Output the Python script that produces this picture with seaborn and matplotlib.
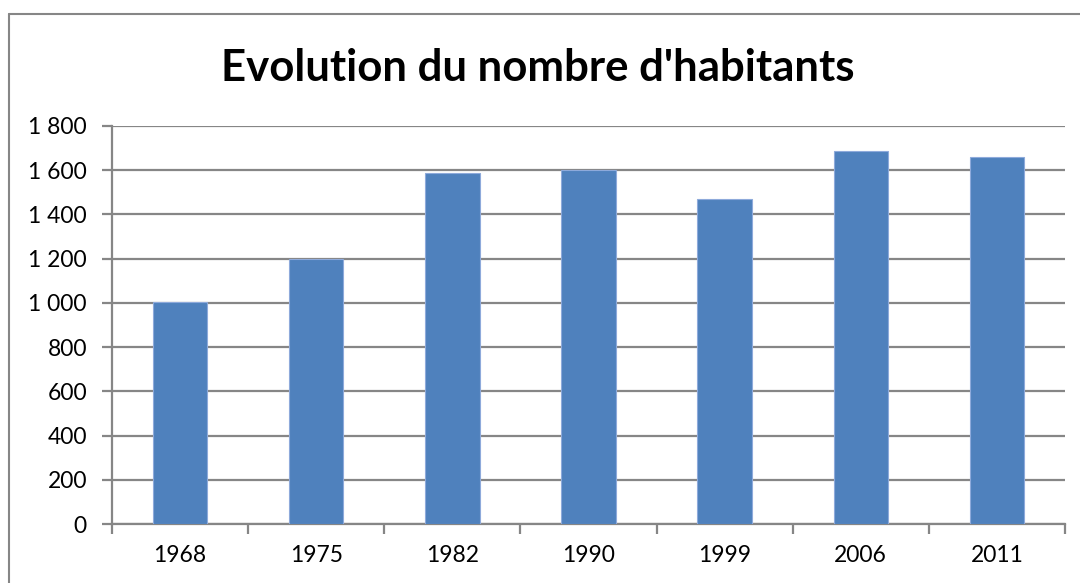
import seaborn as sns
import matplotlib.pyplot as plt
from matplotlib.lines import Line2D
from matplotlib.ticker import FuncFormatter, FixedLocator

# Population par année de recensement
years = ["1968", "1975", "1982", "1990", "1999", "2006", "2011"]
habitants = [1002, 1198, 1588, 1603, 1470, 1688, 1658]

sns.set_style("white")
plt.rcParams["font.family"] = ["Lato", "DejaVu Sans"]
plt.rcParams["text.color"] = "black"
plt.rcParams["xtick.labelcolor"] = "black"
plt.rcParams["ytick.labelcolor"] = "black"

fig = plt.figure(figsize=(10.8, 5.83), dpi=100)
ax = fig.add_axes([0.1037, 0.1012, 0.8824, 0.6827])

sns.barplot(x=years, y=habitants, color="#4F81BD", width=0.4,
            edgecolor="#8EAADB", linewidth=0.8, saturation=1, ax=ax, zorder=3)

ax.set_ylim(0, 1800)
ax.set_yticks(range(0, 1801, 200))
ax.yaxis.set_major_formatter(FuncFormatter(lambda v, p: f"{int(v):,}".replace(",", " ")))
ax.set_xlim(-0.5, len(years) - 0.5)

ax.grid(axis="y", color="#868686", linewidth=1.6, zorder=0)
for side in ["top", "right"]:
    ax.spines[side].set_visible(False)
for side in ["left", "bottom"]:
    ax.spines[side].set_color("#868686")
    ax.spines[side].set_linewidth(1.6)

ax.tick_params(axis="y", direction="out", length=7, width=1.6, color="#868686",
               labelsize=16.5, pad=11, left=True)
ax.tick_params(axis="x", which="major", length=0, labelsize=16.5, pad=15)
ax.xaxis.set_minor_locator(FixedLocator([i - 0.5 for i in range(len(years) + 1)]))
ax.tick_params(axis="x", which="minor", direction="out", length=7, width=1.6,
               color="#868686", bottom=True)
ax.set_xlabel("")
ax.set_ylabel("")

fig.text(0.498, 0.883, "Evolution du nombre d'habitants", ha="center", va="center",
         fontsize=31.5, fontweight="bold")

# cadre du graphique (coupé à droite et en bas)
fig.add_artist(Line2D([9 / 1080, 9 / 1080], [0, 1 - 14 / 583], color="#868686", linewidth=1.5))
fig.add_artist(Line2D([9 / 1080, 1], [1 - 14 / 583, 1 - 14 / 583], color="#868686", linewidth=1.5))

fig.savefig("out.png", dpi=100)
